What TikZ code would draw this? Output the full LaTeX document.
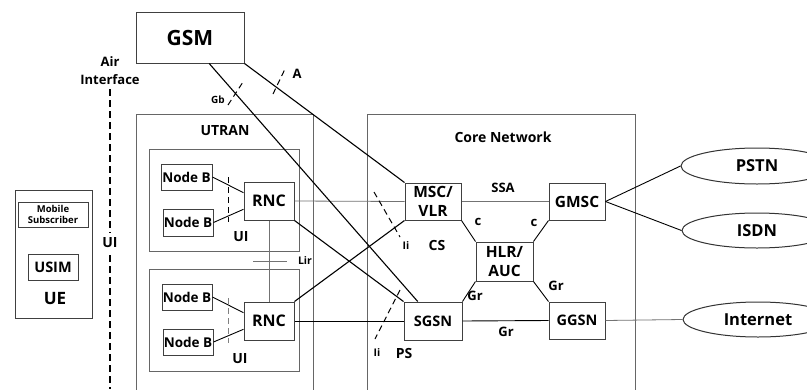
\documentclass[tikz,border=0pt]{standalone}
\usepackage{fontspec}
\setmainfont{Open Sans}
\usetikzlibrary{shapes.geometric,calc}
\tikzset{
  fs/.style={font=\bfseries\fontsize{#1}{#1}\selectfont},
  box/.style={draw=black!75, line width=1pt, inner sep=0pt, align=center},
  frame/.style={draw=black!60, line width=0.8pt},
  conn/.style={draw=black, line width=1.1pt},
  thin/.style={draw=black!55, line width=0.8pt},
  tick/.style={draw=black, line width=1.1pt, dash pattern=on 6pt off 4pt},
  lbl/.style={inner sep=0pt}
}
\begin{document}
\begin{tikzpicture}[x=1pt,y=-1pt]
\useasboundingbox[fill=white] (0,0) rectangle (807,389);
\clip (0,0) rectangle (807,389);
% frames
\draw[frame] (136,400) -- (136,114) -- (313,114) -- (313,400);
\draw[frame] (367,400) -- (367,114) -- (635,114) -- (635,400);
\draw[frame] (149,149) rectangle (299,251);
\draw[frame] (149,269) rectangle (299,371);
% boxes
\node[box, minimum width=108, minimum height=51, fs=21] (gsm) at (190,37.5) {GSM};
\node[box, minimum width=77, minimum height=128] (ue) at (53.5,254) {};
\node[box, minimum width=70, minimum height=25, font=\bfseries\fontsize{9.5}{11}\selectfont] (ms) at (53,214.5) {Mobile\\Subscriber};
\node[box, minimum width=50, minimum height=26, fs=14.5] (usim) at (53,267) {USIM};
\node[lbl, fs=17] (uelbl) at (55,299) {UE};
\node[box, minimum width=51, minimum height=26, fs=13.5] (nbu1) at (186.5,177) {Node B};
\node[box, minimum width=50, minimum height=27, fs=13.5] (nbu2) at (188,222.5) {Node B};
\node[box, minimum width=50, minimum height=38, fs=16] (rncu) at (269,201) {RNC};
\node[box, minimum width=50, minimum height=26, fs=13.5] (nbl1) at (187,297) {Node B};
\node[box, minimum width=50, minimum height=26, fs=13.5] (nbl2) at (188,342) {Node B};
\node[box, minimum width=50, minimum height=38, fs=16] (rncl) at (269,321) {RNC};
\node[box, minimum width=56, minimum height=37, font=\bfseries\fontsize{15.5}{19}\selectfont] (msc) at (433,201.5) {MSC/\\VLR};
\node[box, minimum width=56, minimum height=37, fs=15.5] (gmsc) at (577,201.5) {GMSC};
\node[box, minimum width=57, minimum height=39, font=\bfseries\fontsize{15.5}{19}\selectfont] (hlr) at (504.5,261.5) {HLR/\\AUC};
\node[box, minimum width=58, minimum height=38, fs=14.5] (sgsn) at (433,321) {SGSN};
\node[box, minimum width=56, minimum height=37, fs=14.5] (ggsn) at (577,320.5) {GGSN};
\node[ellipse, draw=black!80, line width=1pt, minimum width=152, minimum height=36, inner sep=0pt, fs=16.5] (pstn) at (757,166) {PSTN};
\node[ellipse, draw=black!80, line width=1pt, minimum width=150, minimum height=35, inner sep=0pt, fs=16.5] (isdn) at (757,230.5) {ISDN};
\node[ellipse, draw=black!80, line width=1pt, minimum width=150, minimum height=35, inner sep=0pt, fs=16.5] (inet) at (758,319.5) {Internet};
% labels
\node[lbl, align=center, font=\bfseries\fontsize{13}{18}\selectfont] (air) at (110,71) {Air\\Interface};
\node[lbl, fs=14] (uiair) at (110,243) {UI};
\node[lbl, fs=10] (gb) at (218,100) {Gb};
\node[lbl, fs=13] (alb) at (297,74) {A};
\node[lbl, fs=14] (utran) at (225,131) {UTRAN};
\node[lbl, fs=14] (ui1) at (241,237) {UI};
\node[lbl, fs=14] (ui2) at (240,359) {UI};
\node[lbl, fs=10.5] (lir) at (305,261) {Lir};
\node[lbl, fs=14] (core) at (503,137) {Core Network};
\node[lbl, fs=13] (ssa) at (503,188) {SSA};
\node[lbl, fs=13] (c1) at (478,222) {c};
\node[lbl, fs=13] (c2) at (534,223) {c};
\node[lbl, fs=10.5] (ii1) at (406,246) {Ii};
\node[lbl, fs=10.5] (ii2) at (377,353) {Ii};
\node[lbl, fs=14] (cs) at (437,245) {CS};
\node[lbl, fs=14] (ps) at (404,353) {PS};
\node[lbl, fs=13] (gr1) at (475,296) {Gr};
\node[lbl, fs=13] (gr2) at (556,286) {Gr};
\node[lbl, fs=13] (gr3) at (506,332) {Gr};
% air interface dashed line
\draw[line width=1.3pt, dash pattern=on 7pt off 4pt] (110,89) -- (110,233);
\draw[line width=1.3pt, dash pattern=on 7pt off 4pt] (110,255) -- (110,389);
% node B to RNC
\draw[conn, line width=0.9pt] (nbu1.east) -- (rncu.162);
\draw[conn, line width=0.9pt] (nbu2.east) -- (rncu.198);
\draw[conn, line width=0.9pt] (nbl1.east) -- (rncl.162);
\draw[conn, line width=0.9pt] (nbl2.east) -- (rncl.198);
\draw[tick, line width=1pt] (228,177) -- (228,222);
\draw[tick, draw=black!50, line width=1pt] (228,298) -- (228,343);
% thin lines
\draw[thin] (rncu.east) -- (msc.west);
\draw[thin] (msc.east) -- (gmsc.west);
\draw[thin] (rncu.south) -- (rncl.north);
\draw[thin] (ggsn.east) -- (inet.west);
\draw[thin, line width=1pt] (253,261) -- (287,261);
% core connections
\draw[conn, line width=0.9pt] (msc.south east) -- (hlr.north west);
\draw[conn, line width=0.9pt] (gmsc.south west) -- (hlr.north east);
\draw[conn, line width=0.9pt] (hlr.south west) -- (sgsn.north east);
\draw[conn, line width=0.9pt] (hlr.south east) -- (ggsn.north west);
\draw[conn, line width=0.9pt] (sgsn.east) -- (ggsn.west);
\draw[conn, line width=0.9pt] (rncl.east) -- (sgsn.west);
\draw[conn, line width=0.9pt] (gmsc.east) -- (pstn.west);
\draw[conn, line width=0.9pt] (gmsc.east) -- (isdn.west);
% crossing lines
\draw[conn] (rncu.south east) -- (sgsn.north west);
\draw[conn] (rncl.north east) -- (msc.south west);
\draw[conn] ($(gsm.south west)!0.676!(gsm.south east)$) -- ($(sgsn.north west)!0.241!(sgsn.north east)$);
\draw[conn] (gsm.south east) -- (msc.north west);
% interface ticks
\draw[tick, line width=1pt] (228,105) -- (243,82);
\draw[tick, line width=1pt] (273,94) -- (285,69);
\draw[tick, line width=1pt] (374,192) -- (400,237);
\draw[tick, line width=1pt] (400,290) -- (375,339);
\end{tikzpicture}
\end{document}
